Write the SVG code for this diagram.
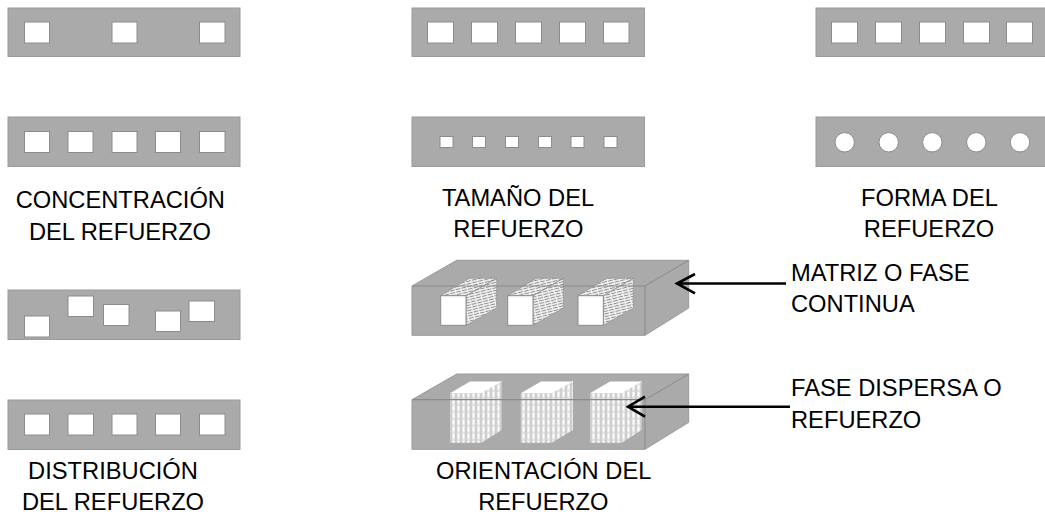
<svg xmlns="http://www.w3.org/2000/svg" width="1045" height="516" viewBox="0 0 1045 516">
<style>
.b{fill:#aaaaaa;stroke:#999999;stroke-width:1}
.h{fill:#ffffff;stroke:#8c8c8c;stroke-width:1}
.e{fill:none;stroke:#8a8a8a;stroke-width:1}
.t{font-family:"Liberation Sans",Arial,sans-serif;font-size:23.7px;fill:#000000}
.m{text-anchor:middle}
.a{fill:none;stroke:#000000;stroke-width:2.6}
</style>
<defs>
<pattern id="hz" width="6" height="2.600" patternUnits="userSpaceOnUse" patternTransform="rotate(-14)"><rect width="6" height="2.600" fill="#f2f2f2"/><path d="M0 1.300H4.800" stroke="#8f8f8f" stroke-width="1"/></pattern>
<pattern id="vt" width="5" height="7" patternUnits="userSpaceOnUse"><rect width="5" height="7" fill="#e2e2e2"/><path d="M1 0V7" stroke="#c2c2c2" stroke-width="1.200"/><path d="M3.500 0V4.500" stroke="#ffffff" stroke-width="1.600"/></pattern>
</defs>
<g id="concentracion-a"><rect class="b" x="8" y="8" width="232" height="48.500"/><rect class="h" x="24.500" y="22" width="25" height="21"/><rect class="h" x="112" y="22" width="25" height="21"/><rect class="h" x="199.500" y="22" width="25.500" height="21"/></g>
<g id="concentracion-b"><rect class="b" x="8" y="117" width="232" height="49.500"/><rect class="h" x="24.500" y="131.500" width="25" height="21"/><rect class="h" x="68" y="131.500" width="25" height="21"/><rect class="h" x="112" y="131.500" width="25" height="21"/><rect class="h" x="155.500" y="131.500" width="25" height="21"/><rect class="h" x="199.500" y="131.500" width="25.500" height="21"/></g>
<g id="tamano-a"><rect class="b" x="412" y="8" width="232.500" height="48.500"/><rect class="h" x="427.500" y="22" width="26" height="21"/><rect class="h" x="471.500" y="22" width="26" height="21"/><rect class="h" x="515.500" y="22" width="26" height="21"/><rect class="h" x="559.500" y="22" width="26" height="21"/><rect class="h" x="603.500" y="22" width="25.500" height="21"/></g>
<g id="tamano-b"><rect class="b" x="412" y="117" width="232.500" height="49.500"/><rect class="h" x="440" y="136.500" width="13" height="11"/><rect class="h" x="472.500" y="136.500" width="13" height="11"/><rect class="h" x="505.500" y="136.500" width="13" height="11"/><rect class="h" x="538.500" y="136.500" width="13" height="11"/><rect class="h" x="571" y="136.500" width="13" height="11"/><rect class="h" x="604" y="136.500" width="13" height="11"/></g>
<g id="forma-a"><rect class="b" x="816" y="8" width="232" height="48.500"/><rect class="h" x="831.500" y="22" width="26" height="21"/><rect class="h" x="875.500" y="22" width="26" height="21"/><rect class="h" x="919.500" y="22" width="26" height="21"/><rect class="h" x="963.500" y="22" width="26" height="21"/><rect class="h" x="1006.500" y="22" width="26" height="21"/></g>
<g id="forma-b"><rect class="b" x="816" y="117" width="232" height="49.500"/><circle class="h" cx="844.700" cy="142.300" r="9.700"/><circle class="h" cx="888.700" cy="142.300" r="9.700"/><circle class="h" cx="932.300" cy="142.300" r="9.700"/><circle class="h" cx="976.300" cy="142.300" r="9.700"/><circle class="h" cx="1020" cy="142.300" r="9.700"/></g>
<g id="distribucion-a"><rect class="b" x="8" y="290" width="232" height="49.500"/><rect class="h" x="24.500" y="316" width="25" height="21"/><rect class="h" x="68" y="296" width="25.500" height="20.500"/><rect class="h" x="103.500" y="304.500" width="25.500" height="21"/><rect class="h" x="155.500" y="311" width="25" height="20.500"/><rect class="h" x="189" y="301" width="25.500" height="20.500"/></g>
<g id="distribucion-b"><rect class="b" x="8" y="400" width="232" height="49.500"/><rect class="h" x="24.500" y="414" width="25" height="21"/><rect class="h" x="68" y="414" width="25.500" height="21"/><rect class="h" x="112" y="414" width="25" height="21"/><rect class="h" x="155.500" y="414" width="25" height="21"/><rect class="h" x="199.500" y="414" width="25.500" height="21"/></g>
<g id="orientacion-a">
<path class="b" d="M412 286L456.700 260.300H688.700V308L645 335.300H412Z"/>
<path class="e" d="M645 286V335.300M645 286L688.700 260.300"/>
<path d="M466 295.700L496.700 278.300V308L466 325.300Z M440.700 295.700L469.300 278.300H496.700L466 295.700Z" fill="url(#hz)" stroke="#8c8c8c" stroke-width=".6"/><rect class="h" x="440.700" y="295.700" width="25.300" height="29.600"/>
<path d="M533 295.700L563.300 278.300V308L533 325.300Z M507.700 295.700L536.300 278.300H563.300L533 295.700Z" fill="url(#hz)" stroke="#8c8c8c" stroke-width=".6"/><rect class="h" x="507.700" y="295.700" width="25.300" height="29.600"/>
<path d="M603.300 295.700L633.300 278.300V308L603.300 325.300Z M578 295.700L606.700 278.300H633.300L603.300 295.700Z" fill="url(#hz)" stroke="#8c8c8c" stroke-width=".6"/><rect class="h" x="578" y="295.700" width="25.300" height="29.600"/>
<path class="e" d="M412 286H645"/>
</g>
<g id="orientacion-b">
<path class="b" d="M412 399.700L456.700 374H688.700V422.300L645 449.300H412Z"/>
<path class="e" d="M645 399.700V449.300M645 399.700L688.700 374"/>
<path d="M450 393.300H481.300V442.700H450ZM481.300 393.300L501.700 380.500V430L481.300 442.700Z" fill="url(#vt)"/><path d="M450 393.300L470 381.500H501.700L481.300 393.300Z" fill="#ffffff"/>
<path d="M520.700 393.300H551.700V442.700H520.700ZM551.700 393.300L573 380.500V430L551.700 442.700Z" fill="url(#vt)"/><path d="M520.700 393.300L541 381.500H573L551.700 393.300Z" fill="#ffffff"/>
<path d="M590 393.300H621.700V442.700H590ZM621.700 393.300L641.700 380.500V430L621.700 442.700Z" fill="url(#vt)"/><path d="M590 393.300L610 381.500H641.700L621.700 393.300Z" fill="#ffffff"/>
<path d="M412 399.700H645" stroke="#8a8a8a" stroke-width="1.200"/>
</g>
<g id="connectors">
<path class="a" d="M786 283.500H677M695 274L677 283.500L695 293.300"/>
<path class="a" d="M790 406.700H628M645 396.700L628 406.700L645 416.700"/>
</g>
<g id="labels">
<text class="t m" x="120.300" y="208">CONCENTRACIÓN</text><text class="t m" x="120" y="239.700">DEL REFUERZO</text>
<text class="t m" x="518" y="205.700">TAMAÑO DEL</text><text class="t m" x="518.300" y="237">REFUERZO</text>
<text class="t m" x="929.500" y="206">FORMA DEL</text><text class="t m" x="929" y="236.700">REFUERZO</text>
<text class="t" x="791" y="280.700">MATRIZ O FASE</text><text class="t" x="791" y="311.700">CONTINUA</text>
<text class="t" x="791" y="396">FASE DISPERSA O</text><text class="t" x="791" y="428">REFUERZO</text>
<text class="t m" x="113" y="479">DISTRIBUCIÓN</text><text class="t m" x="113" y="510">DEL REFUERZO</text>
<text class="t m" x="543.700" y="479">ORIENTACIÓN DEL</text><text class="t m" x="543.300" y="510">REFUERZO</text>
</g>
</svg>
